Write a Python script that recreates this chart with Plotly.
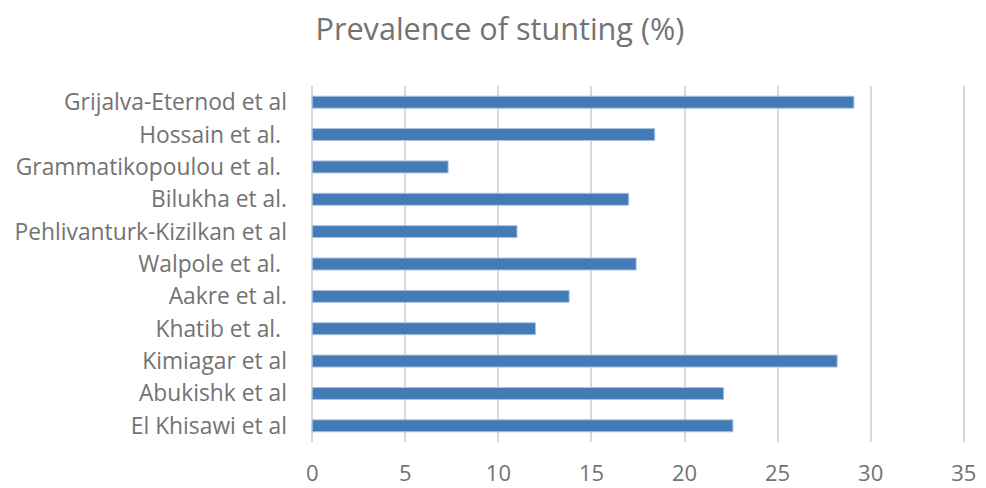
import plotly.graph_objects as go

# Studies, listed top to bottom
studies = [
    "Grijalva-Eternod et al",
    "Hossain et al.\u00a0",
    "Grammatikopoulou et al.\u00a0",
    "Bilukha et al.",
    "Pehlivanturk-Kizilkan et al",
    "Walpole et al.\u00a0",
    "Aakre et al.",
    "Khatib et al.\u00a0",
    "Kimiagar et al",
    "Abukishk et al",
    "El Khisawi et al",
]
stunting_pct = [29.1, 18.4, 7.3, 17.0, 11.0, 17.4, 13.8, 12.0, 28.2, 22.1, 22.6]
x_ticks = [0, 5, 10, 15, 20, 25, 30, 35]

text_grey = "#737373"
font_family = "'Open Sans', sans-serif"

fig = go.Figure(
    go.Bar(
        x=stunting_pct,
        y=studies,
        orientation="h",
        width=0.37,
        marker=dict(color="#437bb8", line=dict(color="#a9c3e2", width=1)),
    )
)

fig.update_layout(
    width=986,
    height=488,
    margin=dict(l=310, r=20, t=86, b=46),
    paper_bgcolor="white",
    plot_bgcolor="white",
    showlegend=False,
    title=dict(
        text="Prevalence of stunting (%)",
        x=0.507,
        xanchor="center",
        y=0.94,
        yanchor="middle",
        font=dict(family=font_family, size=30.6, color=text_grey),
    ),
    font=dict(family=font_family, color=text_grey),
)

# small padding on each side so the 0 and 35 gridlines are drawn
fig.update_xaxes(
    range=[-0.12, 35.12],
    tickvals=x_ticks,
    showgrid=True,
    gridcolor="#d9d9d9",
    gridwidth=1.5,
    zeroline=False,
    showline=False,
    ticks="",
    automargin=False,
    ticklabelstandoff=16,
    tickfont=dict(family=font_family, size=22, color=text_grey),
)

fig.update_yaxes(
    autorange="reversed",
    showgrid=False,
    zeroline=False,
    showline=False,
    ticks="",
    automargin=False,
    ticklabelstandoff=22,
    tickfont=dict(family=font_family, size=22.8, color=text_grey),
)

fig.write_html("out.html")
